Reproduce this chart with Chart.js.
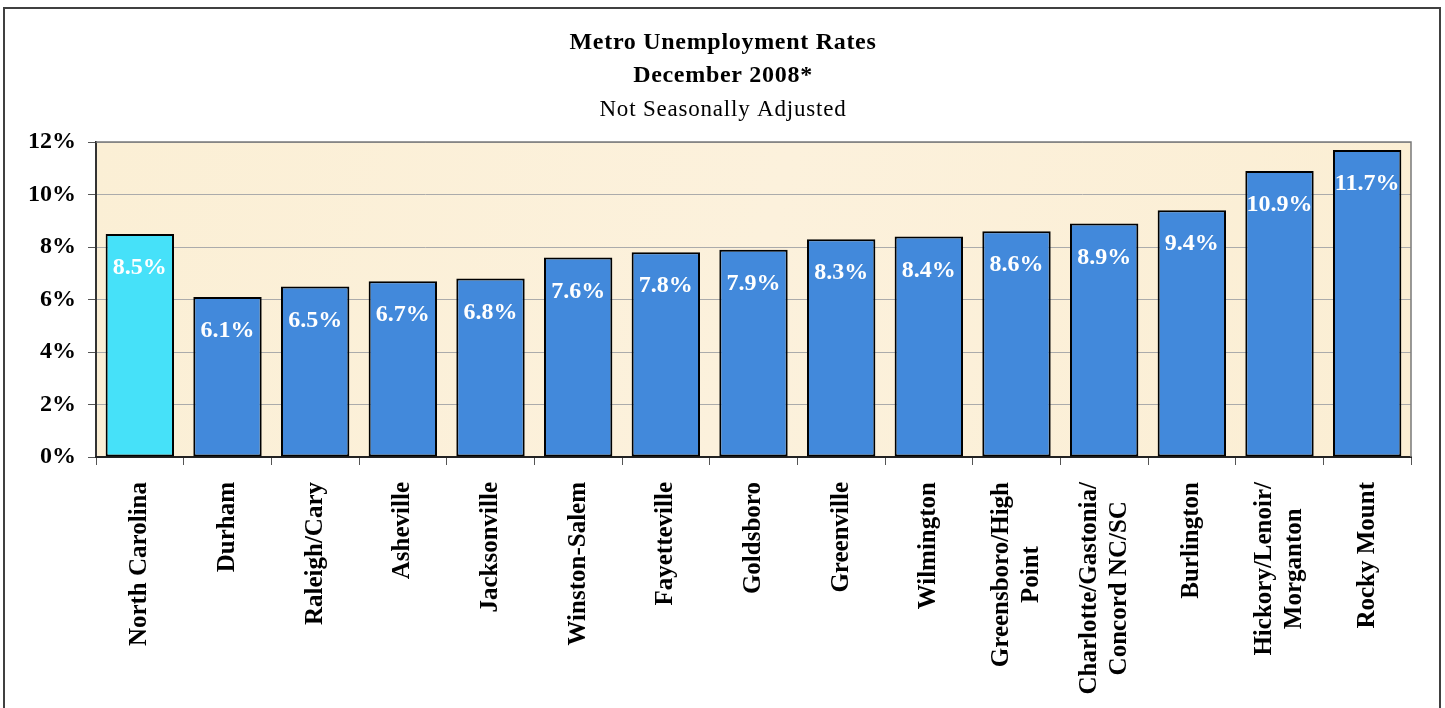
<!DOCTYPE html>
<html>
<head>
<meta charset="utf-8">
<script src="https://cdn.jsdelivr.net/npm/chart.js@4"></script>
<style>
  html, body { margin: 0; padding: 0; background: #fff; }
  #wrap { position: relative; width: 1445px; height: 708px; }
</style>
</head>
<body>
<div id="wrap"><canvas id="chart"></canvas></div>
<script>
const areas = [
  ['North Carolina'], ['Durham'], ['Raleigh/Cary'], ['Asheville'], ['Jacksonville'],
  ['Winston-Salem'], ['Fayetteville'], ['Goldsboro'], ['Greenville'], ['Wilmington'],
  ['Greensboro/High', 'Point'], ['Charlotte/Gastonia/', 'Concord NC/SC'], ['Burlington'],
  ['Hickory/Lenoir/', 'Morganton'], ['Rocky Mount'],
];
const rates = [8.5, 6.1, 6.5, 6.7, 6.8, 7.6, 7.8, 7.9, 8.3, 8.4, 8.6, 8.9, 9.4, 10.9, 11.7];
const titleLines = ['Metro Unemployment Rates', 'December 2008*'];
const subtitleText = 'Not Seasonally Adjusted';

const SERIF = '"Liberation Serif", "Times New Roman", serif';

// frame, titles, plot background and plot border
const framePlugin = {
  id: 'frame',
  beforeDraw(chart) {
    const { ctx, chartArea: a } = chart;
    ctx.save();
    ctx.strokeStyle = '#404040';
    ctx.lineWidth = 2;
    ctx.strokeRect(4, 8, 1436, 720);

    // titles centred on the whole frame
    const cx = 723;
    ctx.fillStyle = '#000';
    ctx.textAlign = 'center';
    ctx.textBaseline = 'middle';
    ctx.font = 'bold 24px ' + SERIF;
    ctx.letterSpacing = '0.7px';
    ctx.fillText(titleLines[0], cx, 43);
    ctx.fillText(titleLines[1], cx, 76);
    ctx.font = '23px ' + SERIF;
    ctx.letterSpacing = '0.8px';
    ctx.fillText(subtitleText, cx, 110);
    ctx.letterSpacing = '0px';

    const g = ctx.createLinearGradient(a.left, a.top, a.right, a.bottom);
    g.addColorStop(0, '#FBEFD5');
    g.addColorStop(0.5, '#FCF1DC');
    g.addColorStop(1, '#FBEED3');
    ctx.fillStyle = g;
    ctx.fillRect(a.left, a.top, a.right - a.left, a.bottom - a.top);
    ctx.restore();
  },
  afterDatasetsDraw(chart) {
    const { ctx, chartArea: a } = chart;
    ctx.save();
    ctx.strokeStyle = '#7a7a7a';
    ctx.lineWidth = 1.5;
    ctx.beginPath();
    ctx.moveTo(a.left, a.top);
    ctx.lineTo(a.right, a.top);
    ctx.lineTo(a.right, a.bottom);
    ctx.stroke();
    ctx.restore();
  },
};

// value labels inside the bars
const valuePlugin = {
  id: 'values',
  afterDatasetsDraw(chart) {
    const { ctx } = chart;
    const meta = chart.getDatasetMeta(0);
    ctx.save();
    ctx.font = 'bold 24px ' + SERIF;
    ctx.fillStyle = '#ffffff';
    ctx.textAlign = 'center';
    ctx.textBaseline = 'middle';
    meta.data.forEach((bar, i) => {
      ctx.fillText(rates[i].toFixed(1) + '%', bar.x, bar.y + 34);
    });
    ctx.restore();
  },
};

// rotated category labels, multi-line centred
const xLabelPlugin = {
  id: 'xlabels',
  afterDraw(chart) {
    const { ctx } = chart;
    const xs = chart.scales.x;
    const top = chart.chartArea.bottom + 25;
    ctx.save();
    ctx.font = 'bold 25px ' + SERIF;
    ctx.fillStyle = '#000';
    ctx.textAlign = 'center';
    ctx.textBaseline = 'middle';
    areas.forEach((lines, i) => {
      const x = xs.getPixelForValue(i);
      const w = Math.max(...lines.map(l => ctx.measureText(l).width));
      ctx.save();
      ctx.translate(x, top + w / 2);
      ctx.rotate(-Math.PI / 2);
      lines.forEach((l, j) => {
        ctx.fillText(l, 0, (j - (lines.length - 1) / 2) * 30);
      });
      ctx.restore();
    });
    ctx.restore();
  },
};

new Chart(document.getElementById('chart'), {
  type: 'bar',
  data: {
    labels: areas.map(a => a.join(' ')),
    datasets: [{
      data: rates,
      backgroundColor: rates.map((v, i) => i === 0 ? '#46E1F9' : '#4289DB'),
      borderColor: '#000',
      borderWidth: 2,
      borderSkipped: false,
      categoryPercentage: 1,
      barPercentage: 0.78,
    }],
  },
  options: {
    responsive: true, maintainAspectRatio: false,
    animation: false,
    layout: { padding: { left: 10, right: 34, top: 142, bottom: 0 } },
    plugins: {
      legend: { display: false },
      tooltip: { enabled: false },
      title: { display: false },
    },
    scales: {
      y: {
        min: 0, max: 12,
        afterFit: s => { s.width = 86; },
        ticks: {
          stepSize: 2,
          color: '#000',
          padding: 12,
          font: { family: SERIF, size: 24, weight: 'bold' },
          callback: v => v + '%',
        },
        grid: { color: '#ABABAB', lineWidth: 1, tickColor: '#555', tickLength: 8 },
        border: { color: '#333', width: 2 },
      },
      x: {
        afterFit: s => { s.height = 251; },
        ticks: { display: false },
        grid: { offset: true, drawOnChartArea: false, tickColor: '#555', tickLength: 8 },
        border: { color: '#222', width: 2 },
      },
    },
  },
  plugins: [framePlugin, valuePlugin, xLabelPlugin],
});
</script>
</body>
</html>
